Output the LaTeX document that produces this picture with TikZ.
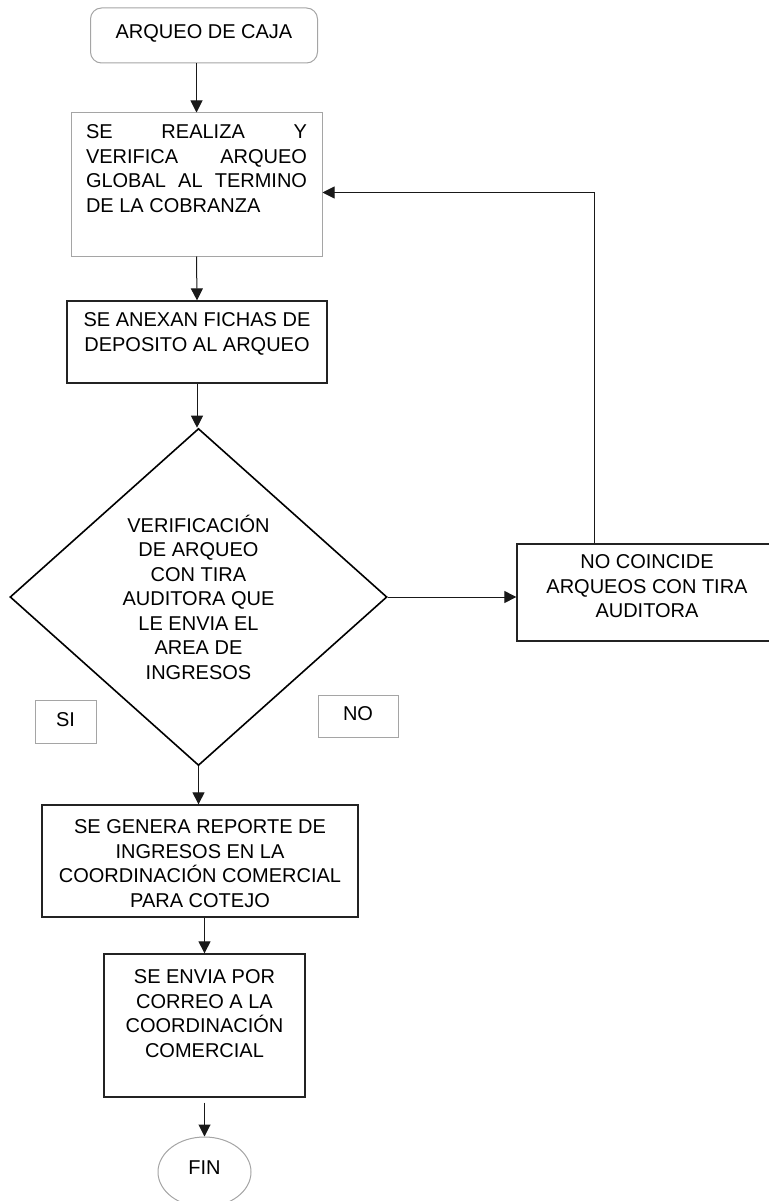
\documentclass[tikz,border=0pt]{standalone}
\usepackage{fontspec}
\setmainfont{Liberation Sans}
\usepackage{tikz}
\usetikzlibrary{arrows.meta,shapes.geometric,calc}
\definecolor{bordeGris}  {RGB}{165,165,165}
\definecolor{bordeOscuro}{RGB}{35, 35, 35}
\definecolor{lineaFlecha}{RGB}{25, 25, 25}
\newcommand{\cajaTexto}[4]{\parbox[c][#1][t]{#2}{\vspace*{#3}#4}}

\begin{document}
\begin{tikzpicture}[x=1pt,y=-1pt,font=\fontsize{20}{24.5}\selectfont,
    caja/.style={draw=bordeOscuro,line width=1.3pt,inner sep=0pt},
    cajaClara/.style={draw=bordeGris,line width=1pt,inner sep=0pt},
    flecha/.style={-{Triangle[length=12pt,width=12pt]},draw=lineaFlecha,line width=1pt}]
  \useasboundingbox (0,0) rectangle (768,1201);
  \node[cajaClara,rounded corners=11pt,minimum width=227pt,minimum height=55pt,text depth=8.7pt]
    (inicio) at (204,35.5) {ARQUEO DE CAJA};
  \node[cajaClara,minimum width=251pt,minimum height=143pt] (realiza) at (196.5,184.5)
    {\cajaTexto{143pt}{221pt}{12pt}{SE\hfill REALIZA\hfill Y\\ VERIFICA\hfill ARQUEO\\
      GLOBAL\hfill AL\hfill TERMINO\\ DE LA COBRANZA}};
  \node[caja,minimum width=260pt,minimum height=82pt] (anexa) at (197,342)
    {\cajaTexto{82pt}{250pt}{12pt}{\centering SE ANEXAN FICHAS DE\\ DEPOSITO AL ARQUEO}};
  \node[draw=black,line width=1.6pt,diamond,aspect=1.12,inner sep=0pt,
    minimum width=377pt,minimum height=337pt] (verifica) at (198.5,597)
    {\parbox{170pt}{\centering VERIFICACIÓN\\ DE ARQUEO\\ CON TIRA\\ AUDITORA QUE\\
      LE ENVIA EL\\ AREA DE\\ INGRESOS}};
  \node[caja,minimum width=260pt,minimum height=97pt] (noCoincide) at (647,592.5)
    {\cajaTexto{97pt}{240pt}{11pt}{\centering NO COINCIDE\\ ARQUEOS CON TIRA\\ AUDITORA}};
  \node[cajaClara,minimum width=61pt,minimum height=43pt] (si) at (65.5,721.5)
    {\cajaTexto{43pt}{61pt}{13pt}{\centering SI}};
  \node[cajaClara,minimum width=80pt,minimum height=42pt] (no) at (358,716)
    {\cajaTexto{42pt}{80pt}{12pt}{\centering NO}};
  \node[caja,minimum width=316pt,minimum height=112pt] (reporte) at (200,861)
    {\cajaTexto{112pt}{306pt}{15pt}{\centering SE GENERA REPORTE DE\\ INGRESOS EN LA\\
      COORDINACIÓN COMERCIAL\\ PARA COTEJO}};
  \node[caja,minimum width=201pt,minimum height=143pt] (envia) at (204.5,1025.5)
    {\cajaTexto{143pt}{190pt}{16pt}{\centering SE ENVIA POR\\ CORREO A LA\\
      COORDINACIÓN\\ COMERCIAL}};
  \node[cajaClara,ellipse,minimum width=93pt,minimum height=70pt,text depth=9.7pt]
    (fin) at (204.5,1172) {FIN};

  \draw[flecha] (realiza.north |- inicio.south) -- (realiza.north);
  \draw[flecha] (realiza.south) -- (anexa.north);
  \draw[flecha] (anexa.south) -- (anexa.south |- verifica.north);
  \draw[flecha] (verifica.east) -- (verifica.east -| noCoincide.west);
  \coordinate (salida) at ($(noCoincide.north west)!0.3!(noCoincide.north east)$);
  \coordinate (codo) at (salida |- 0,192.5);
  \draw[flecha] (salida) -- (codo) -- (codo -| realiza.east);
  \draw[flecha] (verifica.south) -- (verifica.south |- reporte.north);
  \draw[flecha] (envia.north |- reporte.south) -- (envia.north);
  \draw[flecha,shorten <=5pt] (envia.south) -- (fin.north);
\end{tikzpicture}
\end{document}
